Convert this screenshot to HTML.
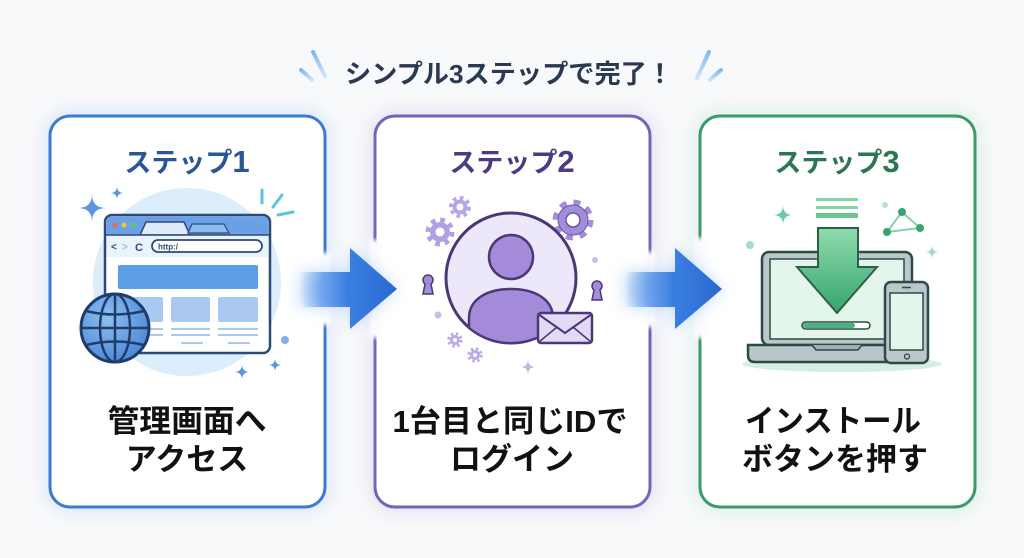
<!DOCTYPE html>
<html><head><meta charset="utf-8"><style>
html,body{margin:0;padding:0;background:#f8f9fb;}
svg{display:block}
text{font-family:"Liberation Sans","Noto Sans CJK JP",sans-serif;font-weight:700}
</style></head><body>
<svg width="1024" height="558" viewBox="0 0 1024 558" xmlns="http://www.w3.org/2000/svg">
<defs>
<filter id="blur8" x="-30%" y="-30%" width="160%" height="160%"><feGaussianBlur stdDeviation="8"/></filter>
<filter id="blur4" x="-30%" y="-30%" width="160%" height="160%"><feGaussianBlur stdDeviation="4"/></filter>
<filter id="blur2" x="-30%" y="-30%" width="160%" height="160%"><feGaussianBlur stdDeviation="2"/></filter>
<linearGradient id="shaft" x1="0" y1="0" x2="1" y2="0">
<stop offset="0" stop-color="#4a8ae8" stop-opacity="0"/>
<stop offset="0.45" stop-color="#4a8ae8" stop-opacity="0.7"/>
<stop offset="1" stop-color="#3478de"/>
</linearGradient>
<linearGradient id="head" x1="0" y1="0" x2="1" y2="0">
<stop offset="0" stop-color="#3a7fe2"/><stop offset="1" stop-color="#2a67cf"/>
</linearGradient>
<radialGradient id="globe" cx="0.4" cy="0.35" r="0.7">
<stop offset="0" stop-color="#8ec0f0"/><stop offset="1" stop-color="#4a86d4"/>
</radialGradient>
<linearGradient id="dl" x1="0" y1="0" x2="0" y2="1">
<stop offset="0" stop-color="#8fdcae"/><stop offset="1" stop-color="#36a46c"/>
</linearGradient>
<linearGradient id="dash" x1="0" y1="0" x2="0" y2="1">
<stop offset="0" stop-color="#7db8ee"/><stop offset="1" stop-color="#cfe5fa"/>
</linearGradient>
<clipPath id="pc"><circle cx="511" cy="278" r="64"/></clipPath>
</defs>

<!-- title -->
<text x="509" y="83" font-size="26" fill="#2b3852" text-anchor="middle" textLength="328" lengthAdjust="spacingAndGlyphs">シンプル3ステップで完了！</text>
<g stroke="url(#dash)" stroke-width="4" stroke-linecap="round">
<line x1="313" y1="52" x2="325" y2="76"/>
<line x1="301" y1="70" x2="312" y2="80"/>
<line x1="709" y1="52" x2="697" y2="78"/>
<line x1="721" y1="70" x2="710" y2="80"/>
</g>

<!-- card glows -->
<rect x="50" y="116" width="275" height="391" rx="20" fill="none" stroke="#8cbcf0" stroke-width="8" opacity="0.45" filter="url(#blur8)"/>
<rect x="375" y="116" width="275" height="391" rx="20" fill="none" stroke="#b9a6e6" stroke-width="8" opacity="0.45" filter="url(#blur8)"/>
<rect x="700" y="116" width="275" height="391" rx="20" fill="none" stroke="#95d8b4" stroke-width="8" opacity="0.45" filter="url(#blur8)"/>

<!-- cards -->
<rect x="50" y="116" width="275" height="391" rx="20" fill="#ffffff" stroke="#3b7bd4" stroke-width="3"/>
<rect x="375" y="116" width="275" height="391" rx="20" fill="#ffffff" stroke="#7a62b6" stroke-width="3"/>
<rect x="700" y="116" width="275" height="391" rx="20" fill="#ffffff" stroke="#3a9a6c" stroke-width="3"/>

<!-- gap covers -->
<rect x="319" y="253" width="12" height="72" fill="#fbfcfe" filter="url(#blur2)"/>
<rect x="369" y="240" width="12" height="98" fill="#fbfcfe" filter="url(#blur2)"/>
<rect x="644" y="252" width="12" height="75" fill="#fbfcfe" filter="url(#blur2)"/>
<rect x="694" y="238" width="12" height="100" fill="#fbfcfe" filter="url(#blur2)"/>

<!-- arrows -->
<g>
<path d="M300,272 L350,272 L350,248 L397,289 L350,329 L350,307 L300,307 Z" fill="#a9cdf6" opacity="0.7" filter="url(#blur8)"/>
<rect x="300" y="272" width="51" height="35" fill="url(#shaft)"/>
<path d="M350,248 L397,289 L350,329 Z" fill="url(#head)"/>
</g>
<g transform="translate(325,0)">
<path d="M300,272 L350,272 L350,248 L397,289 L350,329 L350,307 L300,307 Z" fill="#a9cdf6" opacity="0.7" filter="url(#blur8)"/>
<rect x="300" y="272" width="51" height="35" fill="url(#shaft)"/>
<path d="M350,248 L397,289 L350,329 Z" fill="url(#head)"/>
</g>

<!-- step titles -->
<text x="187" y="172" font-size="27" fill="#2a5596" text-anchor="middle">ステップ<tspan font-size="31">1</tspan></text>
<text x="512" y="172" font-size="27" fill="#4d3a82" text-anchor="middle">ステップ<tspan font-size="31">2</tspan></text>
<text x="837" y="172" font-size="27" fill="#2c7653" text-anchor="middle">ステップ<tspan font-size="31">3</tspan></text>

<!-- labels -->
<g font-size="31" fill="#111" text-anchor="middle">
<text x="187" y="432" textLength="159" lengthAdjust="spacingAndGlyphs">管理画面へ</text>
<text x="187" y="470">アクセス</text>
<text x="510" y="432" textLength="235" lengthAdjust="spacingAndGlyphs">1台目と同じIDで</text>
<text x="512" y="470">ログイン</text>
<text x="833" y="432" textLength="176" lengthAdjust="spacingAndGlyphs">インストール</text>
<text x="835" y="470">ボタンを押す</text>
</g>

<!-- STEP 1 illustration -->
<circle cx="187" cy="282" r="94" fill="#dcedfb"/>
<g fill="#5b95e0">
<path d="M92,194 Q92,208 106,208 Q92,208 92,222 Q92,208 78,208 Q92,208 92,194 Z"/>
<path d="M117,186 Q117,193 124,193 Q117,193 117,200 Q117,193 110,193 Q117,193 117,186 Z"/>
<path d="M242,364 Q242,372 250,372 Q242,372 242,380 Q242,372 234,372 Q242,372 242,364 Z"/>
<path d="M275,358 Q275,365 282,365 Q275,365 275,372 Q275,365 268,365 Q275,365 275,358 Z"/>
<circle cx="285" cy="340" r="4" fill="#7fb2ea"/>
</g>
<g stroke="#5cc4e0" stroke-width="3" stroke-linecap="round">
<line x1="262" y1="190" x2="262" y2="203"/>
<line x1="273" y1="207" x2="282" y2="195"/>
<line x1="278" y1="215" x2="293" y2="212"/>
</g>
<rect x="105" y="215" width="165" height="138" rx="7" fill="#ffffff" stroke="#2c4a78" stroke-width="2.5"/>
<path d="M106.5,235 L106.5,222 Q106.5,216.5 112,216.5 L263,216.5 Q268.5,216.5 268.5,222 L268.5,235 Z" fill="#6aa0e6"/>
<path d="M140,235 L146,222 L184,222 L190,235 Z" fill="#dfeafb" stroke="#2c4a78" stroke-width="1.5"/>
<path d="M188,233 L192,224 L224,224 L229,233 Z" fill="#8fbaf0" stroke="#2c4a78" stroke-width="1.2"/>
<rect x="106.5" y="235" width="162" height="22" fill="#eaf2fc"/>
<line x1="106" y1="235" x2="269" y2="235" stroke="#2c4a78" stroke-width="1.5"/>
<circle cx="115" cy="225" r="2.6" fill="#e86a5a"/>
<circle cx="124" cy="225" r="2.6" fill="#f2c042"/>
<circle cx="133" cy="225" r="2.6" fill="#62c46a"/>
<text x="111" y="250" font-size="10" fill="#2c4a78">&lt;</text>
<text x="122" y="250" font-size="10" fill="#9bb7dc">&gt;</text>
<text x="135" y="251" font-size="11" fill="#2c4a78">C</text>
<rect x="152" y="240" width="110" height="12" rx="6" fill="#ffffff" stroke="#2c4a78" stroke-width="1.8"/>
<text x="158" y="249.5" font-size="8" fill="#2c4a78">http:/</text>
<rect x="118" y="265" width="140" height="24" rx="2" fill="#5e9de8"/>
<g fill="#a9c9f1">
<rect x="118" y="297" width="45" height="25" rx="2"/>
<rect x="171" y="297" width="39" height="25" rx="2"/>
<rect x="218" y="297" width="40" height="25" rx="2"/>
<rect x="150" y="328" width="13" height="2"/><rect x="171" y="328" width="39" height="2"/><rect x="218" y="328" width="40" height="2"/>
<rect x="150" y="334" width="13" height="2"/><rect x="171" y="334" width="39" height="2"/><rect x="218" y="334" width="40" height="2"/>
<rect x="181" y="342" width="22" height="2"/><rect x="228" y="342" width="22" height="2"/>
</g>
<g stroke="#1f3d6b" stroke-width="2.5" fill="none">
<circle cx="115" cy="328" r="34" fill="url(#globe)" stroke-width="3"/>
<ellipse cx="115" cy="328" rx="15" ry="34"/>
<line x1="115" y1="294" x2="115" y2="362"/>
<line x1="81" y1="328" x2="149" y2="328"/>
<path d="M86,311 Q115,318 144,311"/>
<path d="M86,345 Q115,338 144,345"/>
</g>

<!-- STEP 2 illustration -->
<g>
<circle cx="573" cy="220" r="17" fill="none" stroke="#a38dd8" stroke-width="7" stroke-dasharray="6.7 6.7"/>
<circle cx="573" cy="220" r="15" fill="#a38dd8" stroke="#6b56a8" stroke-width="1"/>
<circle cx="573" cy="220" r="7" fill="#ffffff" stroke="#6b56a8" stroke-width="1.5"/>
<circle cx="440" cy="232" r="12" fill="none" stroke="#b3a0e2" stroke-width="5" stroke-dasharray="4.7 4.7"/>
<circle cx="440" cy="232" r="10" fill="#b3a0e2"/>
<circle cx="440" cy="232" r="4.5" fill="#ffffff"/>
<circle cx="460" cy="207" r="9" fill="none" stroke="#b8a6e4" stroke-width="4" stroke-dasharray="3.5 3.5"/>
<circle cx="460" cy="207" r="7.5" fill="#b8a6e4"/>
<circle cx="460" cy="207" r="3.5" fill="#ffffff"/>
<circle cx="455" cy="340" r="6" fill="none" stroke="#bcaae6" stroke-width="3.5" stroke-dasharray="2.4 2.4"/>
<circle cx="455" cy="340" r="5" fill="#bcaae6"/><circle cx="455" cy="340" r="2" fill="#fff"/>
<circle cx="475" cy="355" r="6" fill="none" stroke="#bcaae6" stroke-width="3.5" stroke-dasharray="2.4 2.4"/>
<circle cx="475" cy="355" r="5" fill="#bcaae6"/><circle cx="475" cy="355" r="2" fill="#fff"/>
</g>
<circle cx="511" cy="278" r="65" fill="#ede7fa" stroke="#4a3877" stroke-width="3"/>
<g clip-path="url(#pc)">
<path d="M469,350 L469,318 C469,300 486,289 511,289 C536,289 553,300 553,318 L553,350 Z" fill="#a48bd9" stroke="#4a3877" stroke-width="2.5"/>
</g>
<circle cx="511" cy="257" r="22" fill="#a48bd9" stroke="#4a3877" stroke-width="2.5"/>
<rect x="538" y="313" width="54" height="30" rx="3" fill="#e3dbf6" stroke="#4a3877" stroke-width="2.5"/>
<path d="M538,314 L565,333 L592,314" fill="none" stroke="#4a3877" stroke-width="2"/>
<path d="M539,342 L557,327 M591,342 L573,327" stroke="#4a3877" stroke-width="1.5"/>
<g fill="#a38dd8" stroke="#4a3877" stroke-width="1.5">
<path d="M425,284 A5,5 0 1 1 431,284 L433,294 L423,294 Z"/>
<path d="M594,290 A5,5 0 1 1 600,290 L602,300 L592,300 Z"/>
</g>
<circle cx="595" cy="260" r="3" fill="#c9bcec"/>
<circle cx="438" cy="315" r="3.5" fill="#c9bcec"/>
<path d="M528,359 Q528,367 536,367 Q528,367 528,375 Q528,367 520,367 Q528,367 528,359 Z" fill="#c3b3ea"/>

<!-- STEP 3 illustration -->
<ellipse cx="842" cy="364" rx="100" ry="8" fill="#d3efe0"/>
<rect x="762" y="252" width="150" height="93" rx="7" fill="#bcc7cb" stroke="#2d4b45" stroke-width="2.5"/>
<rect x="770" y="259" width="134" height="80" fill="#e4f5ec" stroke="#2d4b45" stroke-width="1.5"/>
<path d="M748,345 L905,345 L905,355 Q905,362 898,362 L755,362 Q748,362 748,355 Z" fill="#b9c5c9" stroke="#2d4b45" stroke-width="2.5"/>
<path d="M812,345 L816,350 L858,350 L862,345" fill="#a0aeb3" stroke="#2d4b45" stroke-width="1.5"/>
<rect x="816" y="198" width="42" height="3" fill="#86d3a8"/>
<rect x="816" y="206" width="42" height="3" fill="#86d3a8"/>
<rect x="816" y="213" width="42" height="5" fill="#6cc493"/>
<path d="M818,228 L858,228 L858,267 L877,267 L837,313 L797,267 L818,267 Z" fill="url(#dl)" stroke="#2d5e48" stroke-width="2"/>
<rect x="802" y="322" width="68" height="7" rx="3.5" fill="#ffffff" stroke="#2d4b45" stroke-width="1.5"/>
<rect x="803" y="323" width="52" height="5" rx="2.5" fill="#4cb27d"/>
<rect x="885" y="282" width="43" height="81" rx="6" fill="#bcc7cb" stroke="#2d4b45" stroke-width="2.5"/>
<rect x="890" y="293" width="33" height="57" fill="#e4f5ec" stroke="#2d4b45" stroke-width="1.5"/>
<line x1="902" y1="287.5" x2="911" y2="287.5" stroke="#2d4b45" stroke-width="1.5"/>
<circle cx="907" cy="356.5" r="2.5" fill="none" stroke="#2d4b45" stroke-width="1.3"/>
<g stroke="#86d3a8" stroke-width="2"><line x1="902" y1="212" x2="887" y2="232"/><line x1="902" y1="212" x2="920" y2="228"/><line x1="887" y1="232" x2="920" y2="228"/></g>
<g fill="#3aa470"><circle cx="902" cy="212" r="4"/><circle cx="887" cy="232" r="4"/><circle cx="920" cy="228" r="4"/></g>
<circle cx="885" cy="205" r="3" fill="#b5e3cb"/>
<circle cx="750" cy="245" r="4" fill="#a6dfc0"/>
<path d="M783,205 Q783,215 793,215 Q783,215 783,225 Q783,215 773,215 Q783,215 783,205 Z" fill="#6ccaa0"/>
<path d="M932,245 Q932,252 939,252 Q932,252 932,259 Q932,252 925,252 Q932,252 932,245 Z" fill="#9bdcbb"/>
</svg>
</body></html>
